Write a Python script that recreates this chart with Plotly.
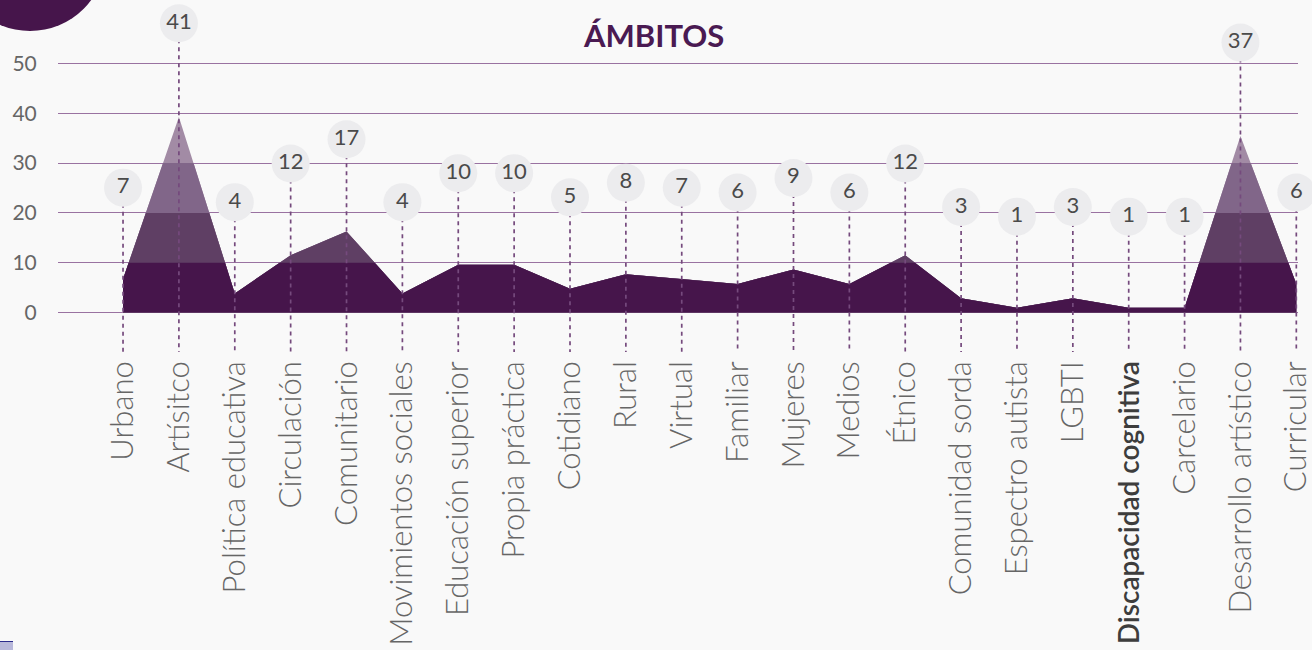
import plotly.graph_objects as go

# ---------------- data ----------------
categories = [
    "Urbano", "Artísitco", "Política educativa", "Circulación", "Comunitario",
    "Movimientos sociales", "Educación superior", "Propia práctica", "Cotidiano",
    "Rural", "Virtual", "Familiar", "Mujeres", "Medios", "Étnico",
    "Comunidad sorda", "Espectro autista", "LGBTI", "Discapacidad cognitiva",
    "Carcelario", "Desarrollo artístico", "Curricular",
]
values = [7, 41, 4, 12, 17, 4, 10, 10, 5, 8, 7, 6, 9, 6, 12, 3, 1, 3, 1, 1, 37, 6]
bold_categories = ["Discapacidad cognitiva"]
y_tick_values = [0, 10, 20, 30, 40, 50]
band_levels = [10, 20, 30, 40]          # shading bands follow the gridlines
title_text = "ÁMBITOS"

# ---------------- layout constants (pixels) ----------------
W, H = 1312, 650
L, R, T, B = 58, 14, 10, 298
plot_top, plot_bottom = T, H - B
plot_w = W - L - R
plot_h = plot_bottom - plot_top

GRID_K = 4.98            # pixels per unit of the printed gridline scale
AREA = (312.5, 4.77)     # zero pixel, pixels per unit of the drawn area
BUBBLE = (221.5, 4.835)  # zero pixel, pixels per unit of the value bubbles
grid_to_area = GRID_K / AREA[1]


def axis_range(spec):
    zero_px, k = spec
    return [(zero_px - plot_bottom) / k, (zero_px - plot_top) / k]


def px_to_paper_x(px):
    return (px - L) / plot_w


def px_to_paper_y(py):
    return (plot_bottom - py) / plot_h


def clip_series(xv, yv, cap):
    """Polyline min(y, cap) with the crossing points inserted."""
    ox, oy = [], []
    for i in range(len(xv)):
        ox.append(xv[i])
        oy.append(min(yv[i], cap))
        if i + 1 < len(xv):
            a, b = yv[i], yv[i + 1]
            if (a - cap) * (b - cap) < 0:
                t = (cap - a) / (b - a)
                ox.append(xv[i] + t * (xv[i + 1] - xv[i]))
                oy.append(cap)
    return ox, oy


x_range = [-1.164, 21.03]
DARK = "#46154b"
band_colors = ["#a28ba5", "#816689", "#5f3f64", DARK]   # top band -> bottom band

xs = list(range(len(categories)))
tick_text = [
    f"<span style='font-weight:600;font-size:28px;color:#3d3d3d'>{c}</span>"
    if c in bold_categories else c
    for c in categories
]

fig = go.Figure()

# layered area (lightest on top band, darkest at bottom) -- main y axis
caps = [None] + [lvl * grid_to_area for lvl in sorted(band_levels, reverse=True)[1:]]
for cap, col in zip(caps, band_colors):
    if cap is None:
        ax, ay = xs, values
    else:
        ax, ay = clip_series(xs, values, cap)
    fig.add_trace(go.Scatter(
        x=ax, y=ay, mode="lines",
        line=dict(width=0, color=col), fill="tozeroy", fillcolor=col,
        hoverinfo="skip", showlegend=False,
    ))

# dashed drop lines
bubble_bottom = axis_range(BUBBLE)[0]
lx, ly = [], []
for i, v in zip(xs, values):
    lx += [i, i, None]
    ly += [v, bubble_bottom, None]
fig.add_trace(go.Scatter(
    x=lx, y=ly, yaxis="y3", mode="lines",
    line=dict(color="#754a7d", width=1.7, dash="4px,4px"),
    hoverinfo="skip", showlegend=False, cliponaxis=False,
))

# bubbles with values
fig.add_trace(go.Scatter(
    x=xs, y=values, yaxis="y3", mode="markers+text",
    marker=dict(size=38, color="#ececee", line=dict(width=0)),
    text=[str(v) for v in values], textposition="middle center",
    textfont=dict(family="Lato", size=22, color="#4a4a4a"),
    hoverinfo="skip", showlegend=False, cliponaxis=False,
))

fig.update_layout(
    width=W, height=H,
    margin=dict(l=L, r=R, t=T, b=B, autoexpand=False),
    paper_bgcolor="#f9f9f9", plot_bgcolor="#f9f9f9",
    showlegend=False,
    xaxis=dict(
        range=x_range, tickmode="array", tickvals=xs, ticktext=tick_text,
        tickangle=-90, showgrid=False, zeroline=False, showline=False,
        ticks="", ticklabelstandoff=2, ticklabeloverflow="allow",
        tickfont=dict(family="Lato", size=31, color="#666666", weight=300),
        automargin=False,
    ),
    yaxis=dict(
        range=axis_range(AREA),
        tickmode="array",
        tickvals=[g * grid_to_area for g in y_tick_values],
        ticktext=[str(g) for g in y_tick_values],
        showgrid=True, gridcolor="#9a72a1", gridwidth=1, zeroline=False,
        showline=False, ticks="outside", ticklen=16, tickcolor="rgba(0,0,0,0)",
        tickfont=dict(family="Lato", size=21, color="#666666"),
        automargin=False,
    ),
    yaxis3=dict(range=axis_range(BUBBLE), overlaying="y", visible=False),
    annotations=[dict(
        text=f"<b>{title_text}</b>", xref="paper", yref="paper",
        x=px_to_paper_x(653), y=px_to_paper_y(35),
        xanchor="center", yanchor="middle", showarrow=False,
        font=dict(family="Lato", size=31, color="#4a1a52"),
    )],
    shapes=[
        dict(type="circle", xref="paper", yref="paper",
             x0=px_to_paper_x(-46), x1=px_to_paper_x(106),
             y0=px_to_paper_y(31), y1=px_to_paper_y(-121),
             fillcolor=DARK, line=dict(width=0), layer="above"),
        dict(type="rect", xref="paper", yref="paper",
             x0=px_to_paper_x(0), x1=px_to_paper_x(13),
             y0=px_to_paper_y(650), y1=px_to_paper_y(641),
             fillcolor="#b8b8da", line=dict(width=0)),
        dict(type="line", xref="paper", yref="paper",
             x0=px_to_paper_x(0), x1=px_to_paper_x(13),
             y0=px_to_paper_y(641.5), y1=px_to_paper_y(641.5),
             line=dict(color="#2b2b8c", width=1)),
    ],
)

fig.write_html("out.html", config={"displayModeBar": False},
               post_script="document.body.style.margin='0';")
